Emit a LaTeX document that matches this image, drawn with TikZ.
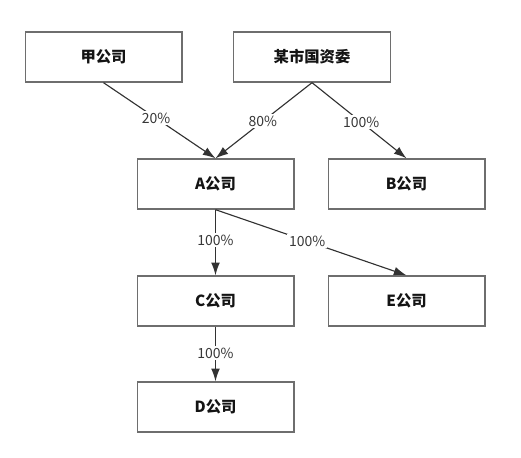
\documentclass[tikz,border=0pt]{standalone}
\usepackage{fontspec}
\usepackage{xcolor}
\usepackage{tikz}
\usetikzlibrary{arrows.meta,positioning}
\newfontfamily\cjkfont{Noto Sans CJK SC}
\definecolor{holdLine}{RGB}{110,110,110}
\definecolor{holdArrow}{RGB}{50,50,50}
\definecolor{holdText}{RGB}{20,20,20}
\tikzset{
  holderbox/.style={rectangle, draw=holdLine, fill=white, line width=1pt,
    minimum width=117.5pt, minimum height=37.5pt, align=center,
    font=\cjkfont\bfseries\fontsize{11.5}{13}\selectfont, text=holdText, inner sep=3pt},
  sharearrow/.style={-{Latex[length=9.5pt,width=6.5pt]}, draw=holdArrow, line width=0.85pt},
  sharelabel/.style={fill=white, font=\cjkfont\fontsize{10.5}{12}\selectfont, text=holdText!85,
    inner sep=1.2pt},
}

\begin{document}
\begin{tikzpicture}[x=0.75pt,y=-0.75pt]
  \useasboundingbox (0,0) rectangle (521,457);

  \node[holderbox] (jia) at (103.5,57) {甲公司};
  \node[holderbox] (gzw) at (312,57) {某市国资委};

  \node[holderbox] (coA) at (215.5,184) {A公司};
  \node[holderbox] (coB) at (406.5,184) {B公司};

  \node[holderbox] (coC) at (215.5,301) {C公司};
  \node[holderbox] (coE) at (406.5,301) {E公司};

  \node[holderbox] (coD) at (215.5,407) {D公司};

  \draw[sharearrow] (jia.south) -- node[sharelabel, pos=0.47] {20\%} (coA.north);
  \draw[sharearrow] (gzw.south) -- node[sharelabel, pos=0.51] {80\%} (coA.north);
  \draw[sharearrow] (gzw.south) -- node[sharelabel, pos=0.52] {100\%} (coB.north);

  \draw[sharearrow] (coA.south) -- node[sharelabel, pos=0.46] {100\%} (coC.north);
  \draw[sharearrow] (coA.south) -- node[sharelabel, pos=0.48] {100\%} (coE.north);
  \draw[sharearrow] (coC.south) -- node[sharelabel, pos=0.48] {100\%} (coD.north);
\end{tikzpicture}
\end{document}
